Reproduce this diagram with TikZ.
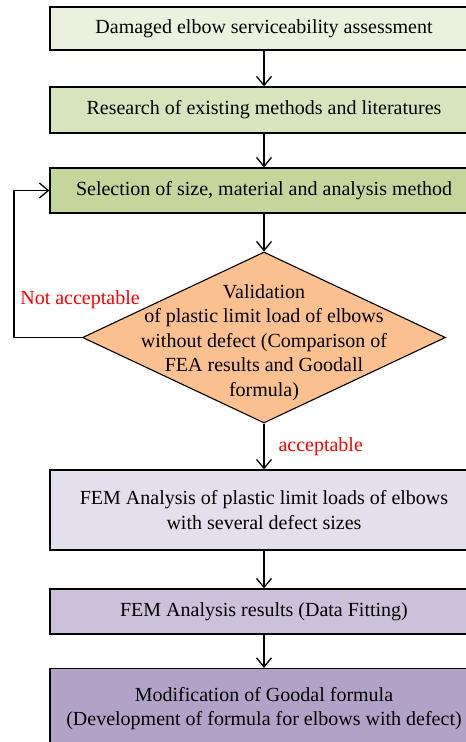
\documentclass[tikz,border=0pt]{standalone}
\usepackage{fontspec}
\setmainfont{Liberation Serif}
\usetikzlibrary{positioning, arrows.meta, shapes.geometric}

\definecolor{boxone}{HTML}{EBF1DE}
\definecolor{boxtwo}{HTML}{D7E4BD}
\definecolor{boxthree}{HTML}{C3D69B}
\definecolor{checkfill}{HTML}{FAC090}
\definecolor{boxfour}{HTML}{E4DFEC}
\definecolor{boxfive}{HTML}{CCC1DA}
\definecolor{boxsix}{HTML}{B3A2C7}

\begin{document}
\begin{tikzpicture}
    [
        on grid, auto,
        flow_box/.style={rectangle, draw=black, line width=1.3pt, minimum width=428pt, inner sep=0pt, align=center, font=\fontsize{20}{24.5}\selectfont},
        check_node/.style={diamond, draw=black, line width=1.1pt, fill=checkfill, minimum width=363pt, minimum height=171pt, inner sep=0pt},
        flow_arrow/.style={-{Straight Barb[length=9pt, width=15pt]}, line width=1.3pt, color=black},
        red_text/.style={text=red, font=\fontsize{20}{24.5}\selectfont},
    ]
        \useasboundingbox (0,0) rectangle (466pt,-742pt);
        \clip (0,0) rectangle (466pt,-742pt);
        \node[flow_box, fill=boxone, minimum height=43pt] (assess) at (264pt,-28.5pt) {Damaged elbow serviceability assessment} ;
        \node[flow_box, fill=boxtwo, minimum height=46pt] (research) [below = 81.5pt of assess] {Research of existing methods and literatures} ;
        \node[flow_box, fill=boxthree, minimum height=45pt] (select) [below = 80.5pt of research] {Selection of size, material and analysis method} ;
        \node[check_node, label={[align=center, font=\fontsize{20}{24.5}\selectfont, yshift=-5pt]center:Validation\\of plastic limit load of elbows\\without defect (Comparison of\\FEA results and Goodall\\formula)}] (check) [below = 147pt of select] {} ;
        \node[flow_box, fill=boxfour, minimum height=80pt] (fem) [below = 172.5pt of check] {FEM Analysis of plastic limit loads of elbows\\with several defect sizes} ;
        \node[flow_box, fill=boxfive, minimum height=45pt] (fit) [below = 101.5pt of fem] {FEM Analysis results (Data Fitting)} ;
        \node[flow_box, fill=boxsix, minimum height=80pt] (modify) [below = 97pt of fit] {Modification of Goodal formula\\(Development of formula for elbows with defect)} ;
        \node[red_text] (notok) at (80pt,-300pt) {Not acceptable} ;
        \node[red_text, anchor=west] (ok) at (275pt,-447pt) {acceptable} ;
        \draw[flow_arrow] (assess) -- (research) ;
        \draw[flow_arrow] (research) -- (select) ;
        \draw[flow_arrow] (select) -- (check) ;
        \draw[flow_arrow] (check) -- (fem) ;
        \draw[flow_arrow] (fem) -- (fit) ;
        \draw[flow_arrow] (fit) -- (modify) ;
        \draw[flow_arrow] (check.west) -- ++(-68pt,0) |- (select.west) ;
    \end{tikzpicture}
\end{document}
